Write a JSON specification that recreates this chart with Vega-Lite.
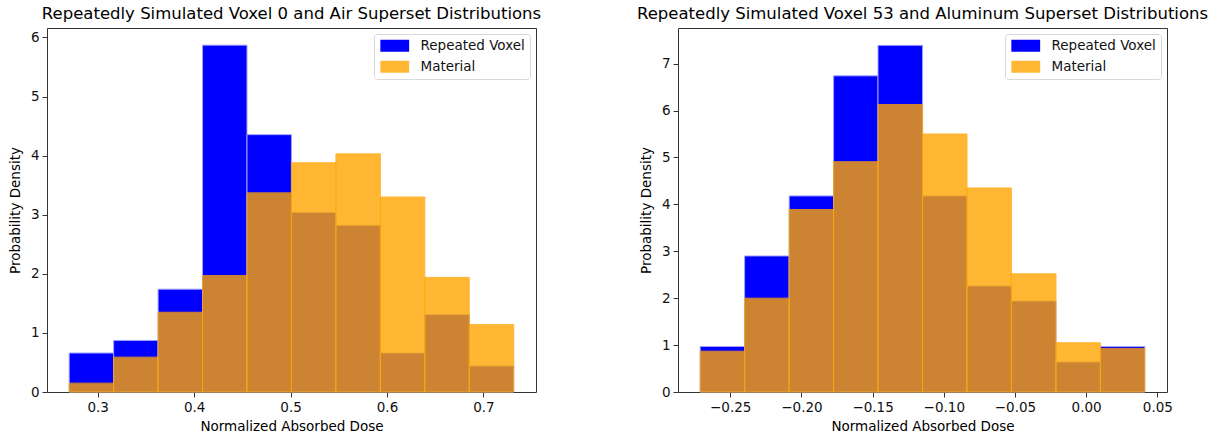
{
  "$schema": "https://vega.github.io/schema/vega-lite/v6.json",
  "padding": {"left": 7, "top": 5, "right": 5, "bottom": 5},
  "background": "white",
  "datasets": {
    "left": [
      {"series": "Repeated Voxel", "start": 0.2704, "end": 0.3165, "density": 0.66},
      {"series": "Repeated Voxel", "start": 0.3165, "end": 0.3626, "density": 0.873},
      {"series": "Repeated Voxel", "start": 0.3626, "end": 0.4087, "density": 1.74},
      {"series": "Repeated Voxel", "start": 0.4087, "end": 0.4548, "density": 5.87},
      {"series": "Repeated Voxel", "start": 0.4548, "end": 0.5009, "density": 4.355},
      {"series": "Repeated Voxel", "start": 0.5009, "end": 0.547, "density": 3.04},
      {"series": "Repeated Voxel", "start": 0.547, "end": 0.5931, "density": 2.82},
      {"series": "Repeated Voxel", "start": 0.5931, "end": 0.6392, "density": 0.66},
      {"series": "Repeated Voxel", "start": 0.6392, "end": 0.6853, "density": 1.31},
      {"series": "Repeated Voxel", "start": 0.6853, "end": 0.7314, "density": 0.44},
      {"series": "Material", "start": 0.2704, "end": 0.3165, "density": 0.15},
      {"series": "Material", "start": 0.3165, "end": 0.3626, "density": 0.59},
      {"series": "Material", "start": 0.3626, "end": 0.4087, "density": 1.35},
      {"series": "Material", "start": 0.4087, "end": 0.4548, "density": 1.97},
      {"series": "Material", "start": 0.4548, "end": 0.5009, "density": 3.37},
      {"series": "Material", "start": 0.5009, "end": 0.547, "density": 3.88},
      {"series": "Material", "start": 0.547, "end": 0.5931, "density": 4.03},
      {"series": "Material", "start": 0.5931, "end": 0.6392, "density": 3.30},
      {"series": "Material", "start": 0.6392, "end": 0.6853, "density": 1.94},
      {"series": "Material", "start": 0.6853, "end": 0.7314, "density": 1.14}
    ],
    "right": [
      {"series": "Repeated Voxel", "start": -0.2711, "end": -0.2399, "density": 0.97},
      {"series": "Repeated Voxel", "start": -0.2399, "end": -0.2086, "density": 2.90},
      {"series": "Repeated Voxel", "start": -0.2086, "end": -0.1774, "density": 4.18},
      {"series": "Repeated Voxel", "start": -0.1774, "end": -0.1462, "density": 6.74},
      {"series": "Repeated Voxel", "start": -0.1462, "end": -0.1149, "density": 7.39},
      {"series": "Repeated Voxel", "start": -0.1149, "end": -0.0837, "density": 4.18},
      {"series": "Repeated Voxel", "start": -0.0837, "end": -0.0525, "density": 2.26},
      {"series": "Repeated Voxel", "start": -0.0525, "end": -0.0212, "density": 1.94},
      {"series": "Repeated Voxel", "start": -0.0212, "end": 0.0100, "density": 0.64},
      {"series": "Repeated Voxel", "start": 0.0100, "end": 0.0412, "density": 0.97},
      {"series": "Material", "start": -0.2711, "end": -0.2399, "density": 0.87},
      {"series": "Material", "start": -0.2399, "end": -0.2086, "density": 2.00},
      {"series": "Material", "start": -0.2086, "end": -0.1774, "density": 3.89},
      {"series": "Material", "start": -0.1774, "end": -0.1462, "density": 4.91},
      {"series": "Material", "start": -0.1462, "end": -0.1149, "density": 6.13},
      {"series": "Material", "start": -0.1149, "end": -0.0837, "density": 5.50},
      {"series": "Material", "start": -0.0837, "end": -0.0525, "density": 4.35},
      {"series": "Material", "start": -0.0525, "end": -0.0212, "density": 2.52},
      {"series": "Material", "start": -0.0212, "end": 0.0100, "density": 1.05},
      {"series": "Material", "start": 0.0100, "end": 0.0412, "density": 0.93}
    ]
  },
  "spacing": 94,
  "hconcat": [
    {
      "width": 489,
      "height": 364,
      "title": {"text": "Repeatedly Simulated Voxel 0 and Air Superset Distributions"},
      "data": {"name": "left"},
      "mark": {"type": "bar", "strokeWidth": 1},
      "encoding": {
        "x": {"field": "start", "type": "quantitative", "scale": {"domain": [0.2474, 0.7545], "nice": false, "zero": false},
              "axis": {"values": [0.3, 0.4, 0.5, 0.6, 0.7], "format": ".1f", "title": "Normalized Absorbed Dose"}},
        "x2": {"field": "end"},
        "y": {"field": "density", "type": "quantitative", "stack": null, "scale": {"domain": [0, 6.16], "nice": false},
              "axis": {"values": [0, 1, 2, 3, 4, 5, 6], "format": "d", "title": "Probability Density"}},
        "y2": {"datum": 0},
        "color": {"field": "series", "type": "nominal", "sort": ["Repeated Voxel", "Material"],
                  "scale": {"domain": ["Repeated Voxel", "Material"], "range": ["#0000ff", "#ffa500"]},
                  "legend": {"title": null, "orient": "top-right", "offset": 6}},
        "opacity": {"field": "series", "type": "nominal", "sort": ["Repeated Voxel", "Material"],
                    "scale": {"domain": ["Repeated Voxel", "Material"], "range": [1, 0.8]},
                    "legend": {"title": null, "orient": "top-right", "offset": 6}},
        "stroke": {"field": "series", "type": "nominal", "sort": ["Repeated Voxel", "Material"],
                   "scale": {"domain": ["Repeated Voxel", "Material"], "range": ["#a0a0ff", "#ffa500"]},
                   "legend": null}
      }
    },
    {
      "width": 489,
      "height": 364,
      "title": {"text": "Repeatedly Simulated Voxel 53 and Aluminum Superset Distributions"},
      "data": {"name": "right"},
      "mark": {"type": "bar", "strokeWidth": 1},
      "encoding": {
        "x": {"field": "start", "type": "quantitative", "scale": {"domain": [-0.2867, 0.0568], "nice": false, "zero": false},
              "axis": {"values": [-0.25, -0.2, -0.15, -0.1, -0.05, 0, 0.05], "format": ".2f", "title": "Normalized Absorbed Dose"}},
        "x2": {"field": "end"},
        "y": {"field": "density", "type": "quantitative", "stack": null, "scale": {"domain": [0, 7.76], "nice": false},
              "axis": {"values": [0, 1, 2, 3, 4, 5, 6, 7], "format": "d", "title": "Probability Density"}},
        "y2": {"datum": 0},
        "color": {"field": "series", "type": "nominal", "sort": ["Repeated Voxel", "Material"],
                  "scale": {"domain": ["Repeated Voxel", "Material"], "range": ["#0000ff", "#ffa500"]},
                  "legend": {"title": null, "orient": "top-right", "offset": 6}},
        "opacity": {"field": "series", "type": "nominal", "sort": ["Repeated Voxel", "Material"],
                    "scale": {"domain": ["Repeated Voxel", "Material"], "range": [1, 0.8]},
                    "legend": {"title": null, "orient": "top-right", "offset": 6}},
        "stroke": {"field": "series", "type": "nominal", "sort": ["Repeated Voxel", "Material"],
                   "scale": {"domain": ["Repeated Voxel", "Material"], "range": ["#a0a0ff", "#ffa500"]},
                   "legend": null}
      }
    }
  ],
  "resolve": {"scale": {"x": "independent", "y": "independent", "color": "independent", "opacity": "independent", "stroke": "independent"}, "legend": {"color": "independent", "opacity": "independent"}},
  "config": {
    "font": "DejaVu Sans",
    "view": {"stroke": "#333", "strokeWidth": 1},
    "title": {"fontSize": 16.5, "fontWeight": "normal", "color": "#000", "offset": 6, "anchor": "middle", "font": "DejaVu Sans"},
    "axis": {"grid": false, "domain": false, "tickColor": "#333", "tickSize": 5, "labelFontSize": 13.5, "labelColor": "#111",
             "titleFontSize": 13.5, "titleFontWeight": "normal", "titleColor": "#000", "labelPadding": 3, "labelFont": "DejaVu Sans", "titleFont": "DejaVu Sans"},
    "axisX": {"titlePadding": 6},
    "axisY": {"titlePadding": 8},
    "legend": {"labelFontSize": 13.5, "labelFont": "DejaVu Sans", "labelColor": "#111", "strokeColor": "#d8d8d8", "cornerRadius": 3, "padding": 5,
               "symbolType": "M-2.4,-1H2.4V1H-2.4Z", "symbolSize": 144, "symbolStrokeWidth": 0, "symbolOffset": 9, "labelOffset": 19, "rowPadding": 6, "fillColor": "white"}
  }
}
